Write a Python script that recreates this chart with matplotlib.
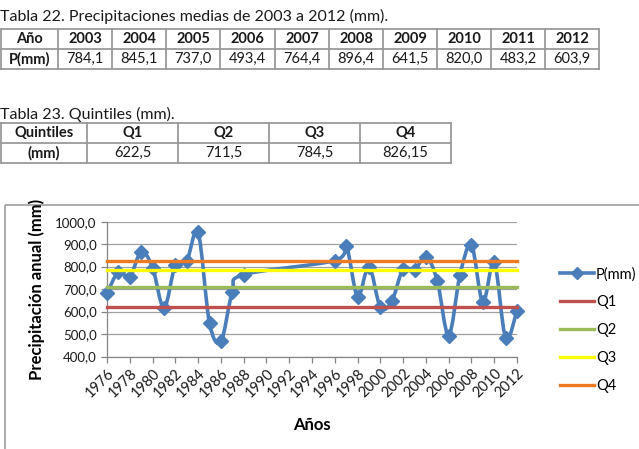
import matplotlib
matplotlib.use("Agg")
import matplotlib.pyplot as plt
from matplotlib.path import Path
from matplotlib.patches import PathPatch, Rectangle
from matplotlib.lines import Line2D

plt.rcParams['font.family'] = ['Lato', 'DejaVu Sans']

# annual precipitation (mm), 1976-1988 and 1996-2012
years = [1976, 1977, 1978, 1979, 1980, 1981, 1982, 1983, 1984, 1985, 1986, 1987, 1988,
         1996, 1997, 1998, 1999, 2000, 2001, 2002, 2003, 2004, 2005, 2006, 2007, 2008,
         2009, 2010, 2011, 2012]
precip = [681, 776, 754, 866, 796, 616, 806, 826, 952, 549, 467, 687, 764,
          827, 892, 667, 800, 620, 645, 790, 784.1, 845.1, 737.0, 493.4, 764.4, 896.4,
          641.5, 820.0, 483.2, 603.9]

# table 22
t22_years = ['2003', '2004', '2005', '2006', '2007', '2008', '2009', '2010', '2011', '2012']
t22_vals = ['784,1', '845,1', '737,0', '493,4', '764,4', '896,4', '641,5', '820,0', '483,2', '603,9']

# table 23 / quintile lines
q_names = ['Q1', 'Q2', 'Q3', 'Q4']
q_vals = [622.5, 711.5, 784.5, 826.15]
q_text = ['622,5', '711,5', '784,5', '826,15']
q_colors = ['#C0504D', '#9BBB59', '#FFFF00', '#EE7B22']

blue = '#4A7EBB'
W, H = 639, 449

fig = plt.figure(figsize=(W / 100, H / 100), dpi=100)

# overlay in pixel coordinates for the tables and the chart frame
lay = fig.add_axes([0, 0, 1, 1])
lay.set_xlim(0, W)
lay.set_ylim(H, 0)
lay.axis('off')


def draw_table(x_edges, y_edges, rows):
    for x in x_edges:
        lay.plot([x, x], [y_edges[0], y_edges[-1]], color='#9a9a9a', lw=1.3)
    for y in y_edges:
        lay.plot([x_edges[0], x_edges[-1]], [y, y], color='#9a9a9a', lw=1.3)
    for r, row in enumerate(rows):
        yc = (y_edges[r] + y_edges[r + 1]) / 2
        for c, txt in enumerate(row):
            xc = (x_edges[c] + x_edges[c + 1]) / 2
            bold = (r == 0 or c == 0)
            lay.text(xc, yc, txt, ha='center', va='center', fontsize=10.5,
                     fontweight='bold' if bold else 'normal', color='#1a1a1a')


lay.text(0, 16, 'Tabla 22. Precipitaciones medias de 2003 a 2012 (mm).',
         ha='left', va='center', fontsize=11.5, color='#1a1a1a')
x22 = [1, 58, 112, 166, 220, 275, 329, 383, 437, 491, 545, 599]
draw_table(x22, [29, 49, 69], [['Año'] + t22_years, ['P(mm)'] + t22_vals])

lay.text(0, 114, 'Tabla 23. Quintiles (mm).', ha='left', va='center',
         fontsize=11.5, color='#1a1a1a')
x23 = [1, 87, 178, 269, 360, 451]
draw_table(x23, [123, 143, 163], [['Quintiles'] + q_names, ['(mm)'] + q_text])

lay.add_patch(Rectangle((5, 205), 700, 300, fill=False, edgecolor='#a6a6a6', lw=1.3))

# chart
ax = fig.add_axes([107 / W, 1 - 356.5 / H, 410 / W, 134.8 / H])
ax.set_xlim(years[0], years[-1])
ax.set_ylim(400, 1000)
ax.set_yticks(range(400, 1001, 100))
ax.set_yticklabels(['%d,0' % v for v in range(400, 1001, 100)])
ax.set_xticks(range(years[0], years[-1] + 1, 2))
ax.set_xticklabels([str(y) for y in range(years[0], years[-1] + 1, 2)],
                   rotation=45, ha='right', va='top', rotation_mode='anchor')
ax.tick_params(labelsize=9.5, colors='#868686', labelcolor='#1a1a1a', length=4, width=0.9)
ax.tick_params(axis='x', labelsize=10.5, pad=3)
ax.yaxis.grid(True, color='#a0a0a0', lw=0.9)
ax.set_axisbelow(True)
for s in ['top', 'right']:
    ax.spines[s].set_visible(False)
for s in ['left', 'bottom']:
    ax.spines[s].set_color('#868686')
    ax.spines[s].set_linewidth(0.9)

# smoothed line (cubic bezier through the points, like the spreadsheet's smooth line)
verts = [(years[0], precip[0])]
codes = [Path.MOVETO]
n = len(years)
for i in range(n - 1):
    x0, y0 = years[i], precip[i]
    x1, y1 = years[i + 1], precip[i + 1]
    xp, yp = (years[i - 1], precip[i - 1]) if i > 0 else (x0, y0)
    xn, yn = (years[i + 2], precip[i + 2]) if i + 2 < n else (x1, y1)
    c1 = (x0 + (x1 - xp) / 6, y0 + (y1 - yp) / 6)
    c2 = (x1 - (xn - x0) / 6, y1 - (yn - y0) / 6)
    verts += [c1, c2, (x1, y1)]
    codes += [Path.CURVE4] * 3
ax.add_patch(PathPatch(Path(verts, codes), facecolor='none', edgecolor=blue,
                       lw=2.6, zorder=3, capstyle='round', joinstyle='round',
                       clip_on=False))
ax.plot(years, precip, ls='none', marker='D', ms=7.2, color=blue, zorder=4,
        clip_on=False)

for name, q, col in zip(q_names, q_vals, q_colors):
    ax.plot([years[0], years[-1]], [q, q], color=col, lw=2.4, zorder=5, clip_on=False)

ax.set_ylabel('Precipitación anual (mm)', fontsize=12, fontweight='bold', labelpad=7)
ax.set_xlabel('Años', fontsize=12, fontweight='bold', labelpad=12)

handles = [Line2D([], [], color=blue, lw=2.6, marker='D', ms=6.5)]
handles += [Line2D([], [], color=c, lw=2.4) for c in q_colors]
fig.legend(handles, ['P(mm)'] + q_names, loc='center left',
           bbox_to_anchor=(553 / W, 1 - 330 / H), frameon=False, fontsize=10.5,
           handlelength=2.3, handletextpad=0.15, labelspacing=0.95, borderpad=0)

fig.savefig('out.png', dpi=100)
